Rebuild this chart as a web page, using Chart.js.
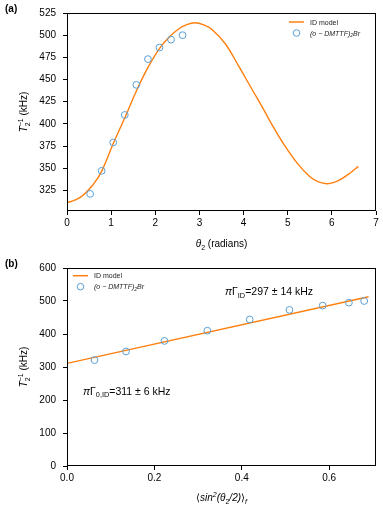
<!DOCTYPE html>
<html>
<head>
<meta charset="utf-8">
<script src="https://cdn.jsdelivr.net/npm/chart.js@4"></script>
<style>
  body { margin: 0; background: #fff; }
  #wrap { position: relative; width: 383px; height: 510px; }
  .panel { position: absolute; left: 0; width: 383px; height: 255px; }
</style>
</head>
<body>
<div id="wrap">
  <div class="panel" style="top:0"><canvas id="topChart" width="383" height="255"></canvas></div>
  <div class="panel" style="top:255px"><canvas id="bottomChart" width="383" height="255"></canvas></div>
</div>
<script>
// measured points (angle in radians, rate in kHz)
const angleData = [0.524, 0.785, 1.047, 1.309, 1.571, 1.833, 2.094, 2.356, 2.618];
const rateData = [321, 347, 379, 410, 444, 473, 486, 495, 500];
const sinAvgData = [0.063, 0.135, 0.223, 0.321, 0.418, 0.509, 0.585, 0.645, 0.680];

// ID model curve
const modelAngle = [0, 0.3, 0.6, 0.79, 1.05, 1.32, 1.59, 1.85, 2.11, 2.34, 2.53, 2.7, 2.89, 3.1, 3.29, 3.59, 3.89, 4.19, 4.49, 4.61, 4.91, 5.21, 5.51, 5.7, 5.89, 6.05, 6.19, 6.4, 6.6];
const modelRate = [311, 317, 332, 347, 378, 408, 439, 465, 486, 499, 507, 511.5, 514, 511.5, 506, 490, 465, 439, 413, 402, 377, 356, 340, 334.5, 332.5, 334, 337, 344, 352];

// linear fit in panel (b)
const fitX = [0, 0.69];
const fitY = [311, 513];

const FONT = '"Liberation Sans", Arial, sans-serif';
const ORANGE = '#ff7f0e';
const BLUE = '#5a9fd4';

function pts(xs, ys) {
    return xs.map((x, i) => ({ x: x, y: ys[i] }));
}

// keep only ticks that fall on the step
function keepStep(step) {
    return function(scale) {
        scale.ticks = scale.ticks.filter(t => Math.abs(t.value / step - Math.round(t.value / step)) < 1e-6);
    };
}

function partFont(p, size) {
    const s = (p.sub || p.sup || p.stack) ? size * 0.7 : size;
    return (p.it ? 'italic ' : '') + (p.b ? 'bold ' : '') + s + 'px ' + FONT;
}

function partWidth(ctx, p, size) {
    ctx.font = partFont(p, size);
    if (p.stack) return Math.max(ctx.measureText(p.stack[0]).width, ctx.measureText(p.stack[1]).width);
    return ctx.measureText(p.t).width;
}

// draw a run of text with italic / sub / sup pieces
function drawRich(ctx, x, y, parts, size, align) {
    let total = 0;
    parts.forEach(p => total += partWidth(ctx, p, size));
    let cx = align === 'center' ? x - total / 2 : x;
    ctx.textAlign = 'left';
    ctx.textBaseline = 'alphabetic';
    parts.forEach(p => {
        const w = partWidth(ctx, p, size);
        ctx.font = partFont(p, size);
        if (p.stack) {
            ctx.fillText(p.stack[0], cx, y + size * 0.3);
            ctx.fillText(p.stack[1], cx, y - size * 0.45);
        } else if (p.sub) {
            ctx.fillText(p.t, cx, y + size * 0.25);
        } else if (p.sup) {
            ctx.fillText(p.t, cx, y - size * 0.45);
        } else {
            ctx.fillText(p.t, cx, y);
        }
        cx += w;
    });
}

const yTitle = [{ t: 'T', it: true }, { stack: ['2', '\u22121'] }, { t: ' (kHz)' }];
const legendLabel = [{ t: '(o \u2212 DMTTF)', it: true }, { t: '2', it: true, sub: true }, { t: 'Br', it: true }];

function decorPlugin(opts) {
    return {
        id: 'decor',
        afterDraw(chart) {
            const ctx = chart.ctx;
            const a = chart.chartArea;
            ctx.save();
            // frame
            ctx.strokeStyle = '#000';
            ctx.lineWidth = 1;
            ctx.strokeRect(Math.round(a.left) + 0.5, Math.round(a.top) + 0.5,
                Math.round(a.right - a.left) - 1, Math.round(a.bottom - a.top) - 1);
            ctx.fillStyle = '#000';
            // panel label
            ctx.font = 'bold 10px ' + FONT;
            ctx.textAlign = 'left';
            ctx.textBaseline = 'alphabetic';
            ctx.fillText(opts.panel, 5, 12);
            // y title
            ctx.save();
            ctx.translate(27, (a.top + a.bottom) / 2);
            ctx.rotate(-Math.PI / 2);
            drawRich(ctx, 0, 0, yTitle, 10, 'center');
            ctx.restore();
            // x title
            drawRich(ctx, (a.left + a.right) / 2, opts.xTitleY, opts.xTitle, 10, 'center');
            // legend
            const L = opts.legend;
            const line = chart.data.datasets[0];
            const dots = chart.data.datasets[1];
            ctx.strokeStyle = line.borderColor;
            ctx.lineWidth = 1.5;
            ctx.beginPath();
            ctx.moveTo(L.x, L.y);
            ctx.lineTo(L.x + 15, L.y);
            ctx.stroke();
            ctx.strokeStyle = dots.borderColor;
            ctx.lineWidth = 1;
            ctx.beginPath();
            ctx.arc(L.x + 7.5, L.y + 11, 3.3, 0, Math.PI * 2);
            ctx.stroke();
            ctx.fillStyle = '#222';
            ctx.font = '7px ' + FONT;
            ctx.fillText('ID model', L.x + 21, L.y + 2.5);
            drawRich(ctx, L.x + 21, L.y + 13.5, legendLabel, 7, 'left');
            // annotations
            ctx.fillStyle = '#000';
            (opts.notes || []).forEach(n => drawRich(ctx, n.x, n.y, n.parts, 10.5, 'left'));
            ctx.restore();
        }
    };
}

function axisOpts(min, max, step, fmt, pad, extra) {
    return Object.assign({
        type: 'linear',
        min: min,
        max: max,
        ticks: {
            stepSize: step,
            color: '#000',
            font: { family: FONT, size: 10 },
            padding: pad,
            callback: fmt
        },
        grid: { drawOnChartArea: false, drawTicks: true, tickLength: 4, tickColor: '#000', lineWidth: 1 },
        border: { display: false },
        afterBuildTicks: keepStep(step)
    }, extra);
}

function makeChart(id, datasets, xAxis, yAxis, padTop, plugin) {
    return new Chart(document.getElementById(id), {
        type: 'scatter',
        data: { datasets: datasets },
        options: {
            responsive: false,
            animation: false,
            layout: { padding: { top: padTop, right: 7, left: 0, bottom: 0 } },
            plugins: { legend: { display: false }, tooltip: { enabled: false } },
            scales: { x: xAxis, y: yAxis }
        },
        plugins: [plugin]
    });
}

function lineSet(xs, ys, tension) {
    return {
        label: 'ID model',
        data: pts(xs, ys),
        showLine: true,
        borderColor: ORANGE,
        borderWidth: 1.4,
        pointRadius: 0,
        tension: tension,
        order: 2
    };
}

function dotSet(xs, ys) {
    return {
        label: '(o - DMTTF)2Br',
        data: pts(xs, ys),
        showLine: false,
        pointStyle: 'circle',
        pointRadius: 3.4,
        borderColor: BLUE,
        backgroundColor: 'rgba(0,0,0,0)',
        borderWidth: 1,
        order: 1
    };
}

const fitW = s => { s.width = 67; };
const fitH = s => { s.height = 44; };

makeChart('topChart',
    [lineSet(modelAngle, modelRate, 0.4), dotSet(angleData, rateData)],
    axisOpts(0, 7, 1, v => String(v), 2, { afterFit: fitH }),
    axisOpts(301.7, 525, 25, v => String(v), 7, { afterFit: fitW }),
    12,
    decorPlugin({
        panel: '(a)',
        xTitleY: 247,
        xTitle: [{ t: '\u03b8', it: true }, { t: '2', sub: true }, { t: ' (radians)' }],
        legend: { x: 289, y: 22 }
    })
);

makeChart('bottomChart',
    [lineSet(fitX, fitY, 0), dotSet(sinAvgData, rateData)],
    axisOpts(0, 0.707, 0.2, v => v.toFixed(1), 2, { afterFit: fitH }),
    axisOpts(0, 600, 100, v => String(v), 7, { afterFit: fitW }),
    11,
    decorPlugin({
        panel: '(b)',
        xTitleY: 246,
        xTitle: [{ t: '\u27e8' }, { t: 'sin', it: true }, { t: '2', it: true, sup: true }, { t: '(' , it: true }, { t: '\u03b8', it: true }, { t: '2', sub: true }, { t: '/2)', it: true }, { t: '\u27e9' }, { t: 'f', it: true, sub: true }],
        legend: { x: 73, y: 20.7 },
        notes: [
            { x: 225, y: 40, parts: [{ t: '\u03c0', it: true }, { t: '\u0393' }, { t: 'ID', sub: true }, { t: '=297 \u00b1 14 kHz' }] },
            { x: 83, y: 139.5, parts: [{ t: '\u03c0', it: true }, { t: '\u0393' }, { t: '0,ID', sub: true }, { t: '=311 \u00b1 6 kHz' }] }
        ]
    })
);
</script>
</body>
</html>
